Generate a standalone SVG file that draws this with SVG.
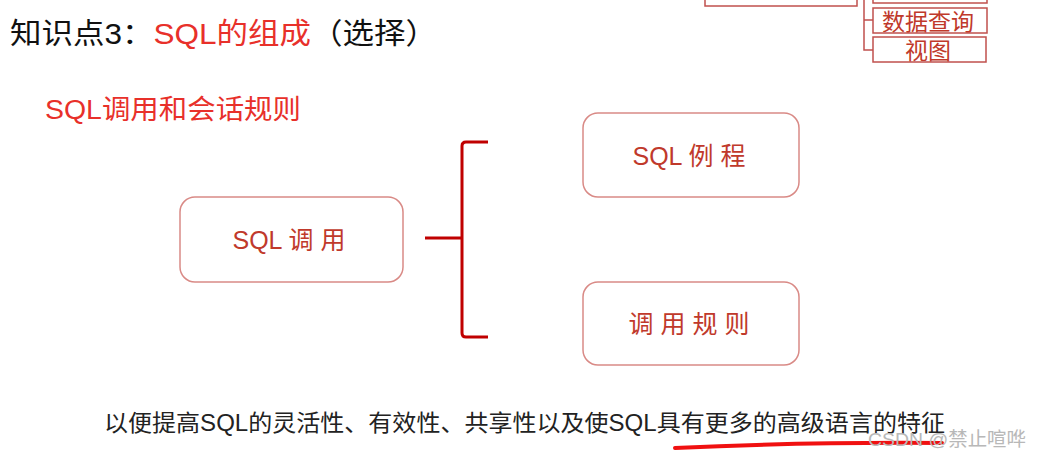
<svg xmlns="http://www.w3.org/2000/svg" width="1040" height="456" viewBox="0 0 1040 456">
<style>
.cjk{font-family:"Liberation Sans","Noto Sans CJK SC",sans-serif}
.node rect{fill:#fff;stroke:#d98a86;stroke-width:1.5}
.node text{fill:#c0392b;font-size:25px;text-anchor:middle}
.mini rect{fill:#fff;stroke:#c0504d;stroke-width:1.5}
.mini text{fill:#c0392b;font-size:23px;text-anchor:middle}
.conn{fill:none;stroke:#c00000;stroke-width:3}
.miniconn{fill:none;stroke:#c0504d;stroke-width:1.5}
</style>
<rect width="1040" height="456" fill="#fff"/>
<g id="corner">
<rect x="705" y="-20" width="152" height="26" fill="#fff" stroke="#c0504d" stroke-width="1.5"/>
<path class="miniconn" d="M864 0 V50 H873 M864 20 H873"/>
<g class="mini">
<rect x="873" y="-20" width="114" height="23"/>
<rect x="873" y="8" width="114" height="25"/>
<text class="cjk" x="928" y="30">数据查询</text>
<rect x="873" y="37" width="113" height="25"/>
<text class="cjk" x="928" y="59">视图</text>
</g>
</g>
<text class="cjk" x="10" y="44" font-size="29" fill="#111" textLength="427" lengthAdjust="spacingAndGlyphs">知识点3：<tspan fill="#e8302a">SQL的组成</tspan>（选择）</text>
<text class="cjk" x="45" y="119" font-size="27" fill="#e8302a" textLength="256" lengthAdjust="spacingAndGlyphs">SQL调用和会话规则</text>
<g id="connectors">
<path class="conn" d="M425 238 H462 M488 142 H466 Q462 142 462 146 V333 Q462 337 466 337 H488"/>
</g>
<g id="n-call" class="node">
<rect x="180" y="197" width="223" height="85" rx="15"/>
<text class="cjk" x="289" y="249">SQL 调 用</text>
</g>
<g id="n-routine" class="node">
<rect x="583" y="113" width="216" height="84" rx="15"/>
<text class="cjk" x="689" y="165">SQL 例 程</text>
</g>
<g id="n-rule" class="node">
<rect x="583" y="282" width="216" height="83" rx="15"/>
<text class="cjk" x="689" y="333">调 用 规 则</text>
</g>
<text class="cjk" x="104" y="431" font-size="23" fill="#222" textLength="841" lengthAdjust="spacingAndGlyphs">以便提高SQL的灵活性、有效性、共享性以及使SQL具有更多的高级语言的特征</text>
<path d="M675 448 Q800 442 942 443" fill="none" stroke="#f01010" stroke-width="4" stroke-linecap="round"/>
<text class="cjk" x="868" y="446" font-size="19" fill="#b8b8b8" textLength="158" lengthAdjust="spacingAndGlyphs">CSDN @禁止喧哗</text>
</svg>
